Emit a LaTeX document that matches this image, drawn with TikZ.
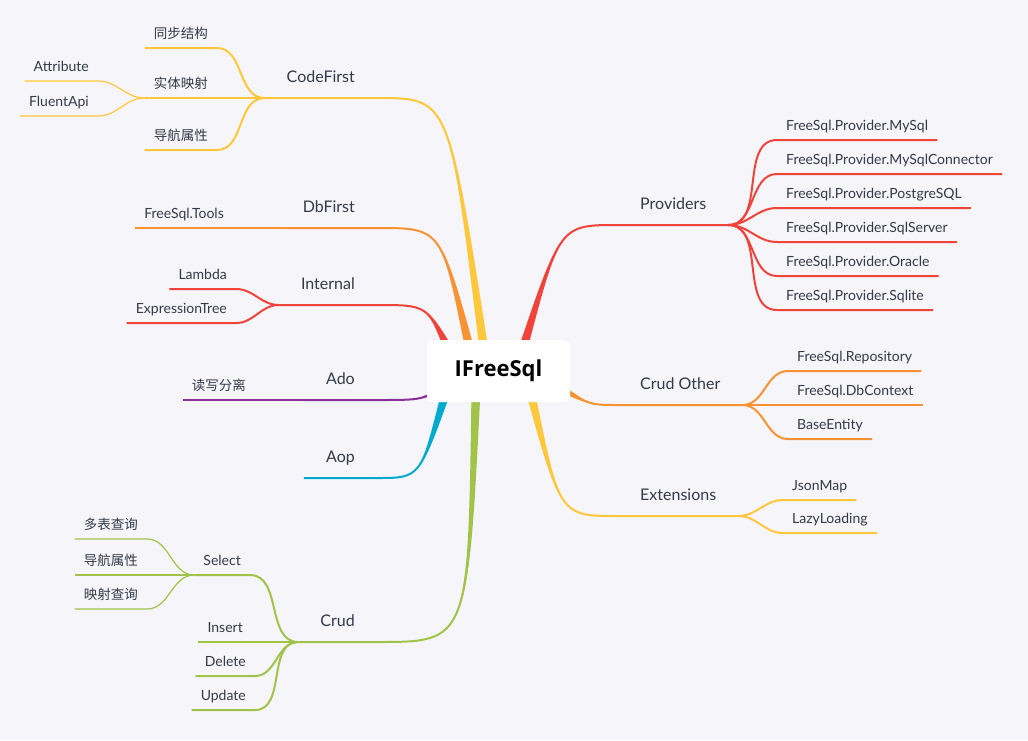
\documentclass[tikz,border=0pt]{standalone}
\usepackage{fontspec}
\setmainfont{Lato}
\newfontfamily\cjk{Noto Sans CJK SC}
\newfontfamily\rootfont{Open Sans}
\usepackage{tikz}
\usetikzlibrary{calc}
\definecolor{bgcol}{RGB}{245,245,250}
\definecolor{cYellow}{RGB}{255,200,60}
\definecolor{cOrange}{RGB}{247,147,50}
\definecolor{cRed}{RGB}{240,68,58}
\definecolor{cPurple}{RGB}{139,46,150}
\definecolor{cCyan}{RGB}{0,171,207}
\definecolor{cGreen}{RGB}{161,195,74}
\definecolor{txt}{RGB}{52,58,72}

\begin{document}
\begin{tikzpicture}[x=1pt,y=-1pt,
  topic/.style={text=txt,inner xsep=22pt,inner ysep=12pt,text depth=3.6pt,font=\fontsize{16}{19}\selectfont},
  sub/.style={text=txt,inner xsep=9pt,inner ysep=6pt,text depth=3pt,font=\fontsize{14}{17}\selectfont},
  zh/.style={font=\cjk\fontsize{13.5}{16}\selectfont},
  root/.style={fill=white,rounded corners=6pt,minimum width=143pt,minimum height=62pt,font=\rootfont\bfseries\fontsize{22}{26}\selectfont},
  stem/.style={line width=2pt},
  line2/.style={line width=2pt},
  line3/.style={line width=1.2pt},
  tol/.style={out=180,in=0},
  tor/.style={out=0,in=180}]
\useasboundingbox (0,0) rectangle (1028,740);
\fill[bgcol] (0,0) rectangle (1028,740);
\coordinate (o) at (498.5,371);

% left side
\node[topic,anchor=south east] (codefirst) at (377,98) {CodeFirst};
\node[sub,zh,anchor=south east] (sync) at (217,48) {同步结构};
\node[sub,zh,anchor=south east] (entity) at (217,98) {实体映射};
\node[sub,zh,anchor=south east] (nav) at (217,150) {导航属性};
\node[sub,anchor=south east] (attr) at (98,81) {Attribute};
\node[sub,anchor=south east] (fluent) at (98,116) {FluentApi};

\node[topic,anchor=south east] (dbfirst) at (377,228) {DbFirst};
\node[sub,anchor=south east] (tools) at (233,228) {FreeSql.Tools};

\node[topic,anchor=south east] (internal) at (377,305) {Internal};
\node[sub,anchor=south east] (lambda) at (236,289) {Lambda};
\node[sub,anchor=south east] (exprtree) at (236,323) {ExpressionTree};

\node[topic,anchor=south east] (ado) at (377,400) {Ado};
\node[sub,zh,anchor=south east] (rwsplit) at (255,400) {读写分离};

\node[topic,anchor=south east] (aop) at (377,478) {Aop};

\node[topic,anchor=south east] (crud) at (377,642) {Crud};
\node[sub,anchor=south east] (select) at (250,575) {Select};
\node[sub,zh,anchor=south east] (multi) at (147,539) {多表查询};
\node[sub,zh,anchor=south east] (nav2) at (147,575) {导航属性};
\node[sub,zh,anchor=south east] (mapq) at (147,609) {映射查询};
\node[sub,anchor=south east] (insert) at (252,642) {Insert};
\node[sub,anchor=south east] (delete) at (255,676) {Delete};
\node[sub,anchor=south east] (update) at (255,710) {Update};

% right side
\node[topic,anchor=south west] (providers) at (618,225) {Providers};
\node[sub,anchor=south west] (pmysql) at (777,140) {FreeSql.Provider.MySql};
\node[sub,anchor=south west] (pconn) at (777,174) {FreeSql.Provider.MySqlConnector};
\node[sub,anchor=south west] (ppg) at (777,208) {FreeSql.Provider.PostgreSQL};
\node[sub,anchor=south west] (pss) at (777,242) {FreeSql.Provider.SqlServer};
\node[sub,anchor=south west] (pora) at (777,276) {FreeSql.Provider.Oracle};
\node[sub,anchor=south west] (plite) at (777,310) {FreeSql.Provider.Sqlite};

\node[topic,anchor=south west] (crudother) at (618,405) {Crud Other};
\node[sub,anchor=south west] (repo) at (788,371) {FreeSql.Repository};
\node[sub,anchor=south west] (dbctx) at (788,405) {FreeSql.DbContext};
\node[sub,anchor=south west] (baseent) at (788,439) {BaseEntity};

\node[topic,anchor=south west] (extensions) at (618,516) {Extensions};
\node[sub,anchor=south west] (jsonmap) at (783,500) {JsonMap};
\node[sub,anchor=south west] (lazy) at (783,533) {LazyLoading};

% branch starts inside the root box
\coordinate (s-cf) at ($(o)+(-14.5,-21)$);
\coordinate (s-db) at ($(o)+(-28.5,-21)$);
\coordinate (s-in) at ($(o)+(-48.5,-19)$);
\coordinate (s-ado) at ($(o)+(-53.5,14)$);
\coordinate (s-aop) at ($(o)+(-52.5,21)$);
\coordinate (s-crud) at ($(o)+(-22.5,19)$);
\coordinate (s-prov) at ($(o)+(23.5,-19)$);
\coordinate (s-other) at ($(o)+(56.5,14)$);
\coordinate (s-ext) at ($(o)+(31.5,19)$);

% main branches
\fill[cYellow] ($(s-cf)!4.5pt!90:(449,98)$) .. controls (449,98) .. (codefirst.south east) .. controls (449,98) .. ($(s-cf)!4.5pt!-90:(449,98)$) -- cycle;
\draw[cYellow,stem] (s-cf) .. controls (449,98) .. (codefirst.south east) -- (codefirst.south west);
\fill[cOrange] ($(s-db)!4.5pt!90:(441,228)$) .. controls (441,228) .. (dbfirst.south east) .. controls (441,228) .. ($(s-db)!4.5pt!-90:(441,228)$) -- cycle;
\draw[cOrange,stem] (s-db) .. controls (441,228) .. (dbfirst.south east) -- (dbfirst.south west);
\fill[cRed] ($(s-in)!4.5pt!90:(427,305)$) .. controls (427,305) .. (internal.south east) .. controls (427,305) .. ($(s-in)!4.5pt!-90:(427,305)$) -- cycle;
\draw[cRed,stem] (s-in) .. controls (427,305) .. (internal.south east) -- (internal.south west);
\fill[cPurple] ($(s-ado)!4.5pt!90:(423,400)$) .. controls (423,400) .. (ado.south east) .. controls (423,400) .. ($(s-ado)!4.5pt!-90:(423,400)$) -- cycle;
\draw[cPurple,stem] (s-ado) .. controls (423,400) .. (ado.south east) -- (ado.south west);
\fill[cCyan] ($(s-aop)!4.5pt!90:(420,478)$) .. controls (420,478) .. (aop.south east) .. controls (420,478) .. ($(s-aop)!4.5pt!-90:(420,478)$) -- cycle;
\draw[cCyan,stem] (s-aop) .. controls (420,478) .. (aop.south east) -- (aop.south west);
\fill[cGreen] ($(s-crud)!4.5pt!90:(468,642)$) .. controls (468,642) .. (crud.south east) .. controls (468,642) .. ($(s-crud)!4.5pt!-90:(468,642)$) -- cycle;
\draw[cGreen,stem] (s-crud) .. controls (468,642) .. (crud.south east) -- (crud.south west);
\fill[cRed] ($(s-prov)!4.5pt!90:(560,225)$) .. controls (560,225) .. (providers.south west) .. controls (560,225) .. ($(s-prov)!4.5pt!-90:(560,225)$) -- cycle;
\draw[cRed,stem] (s-prov) .. controls (560,225) .. (providers.south west) -- (providers.south east);
\fill[cOrange] ($(s-other)!4.5pt!90:(590,405)$) .. controls (590,405) .. (crudother.south west) .. controls (590,405) .. ($(s-other)!4.5pt!-90:(590,405)$) -- cycle;
\draw[cOrange,stem] (s-other) .. controls (590,405) .. (crudother.south west) -- (crudother.south east);
\fill[cYellow] ($(s-ext)!4.5pt!90:(560,516)$) .. controls (560,516) .. (extensions.south west) .. controls (560,516) .. ($(s-ext)!4.5pt!-90:(560,516)$) -- cycle;
\draw[cYellow,stem] (s-ext) .. controls (560,516) .. (extensions.south west) -- (extensions.south east);

% sub branches, left
\draw[cYellow,line2] (codefirst.south west) to[tol] (sync.south east) -- (sync.south west);
\draw[cYellow,line2] (codefirst.south west) to[tol] (entity.south east) -- (entity.south west);
\draw[cYellow,line2] (codefirst.south west) to[tol] (nav.south east) -- (nav.south west);
\draw[cYellow,line3] (entity.south west) to[tol] (attr.south east) -- (attr.south west);
\draw[cYellow,line3] (entity.south west) to[tol] (fluent.south east) -- (fluent.south west);
\draw[cOrange,line2] (dbfirst.south west) to[tol] (tools.south east) -- (tools.south west);
\draw[cRed,line2] (internal.south west) to[tol] (lambda.south east) -- (lambda.south west);
\draw[cRed,line2] (internal.south west) to[tol] (exprtree.south east) -- (exprtree.south west);
\draw[cPurple,line2] (ado.south west) to[tol] (rwsplit.south east) -- (rwsplit.south west);
\draw[cGreen,line2] (crud.south west) to[tol] (select.south east) -- (select.south west);
\draw[cGreen,line2] (crud.south west) to[tol] (insert.south east) -- (insert.south west);
\draw[cGreen,line2] (crud.south west) to[tol] (delete.south east) -- (delete.south west);
\draw[cGreen,line2] (crud.south west) to[tol] (update.south east) -- (update.south west);
\draw[cGreen,line3] (select.south west) to[tol] (multi.south east) -- (multi.south west);
\draw[cGreen,line3] (select.south west) to[tol] (nav2.south east) -- (nav2.south west);
\draw[cGreen,line3] (select.south west) to[tol] (mapq.south east) -- (mapq.south west);

% sub branches, right
\draw[cRed,line2] (providers.south east) to[tor] (pmysql.south west) -- (pmysql.south east);
\draw[cRed,line2] (providers.south east) to[tor] (pconn.south west) -- (pconn.south east);
\draw[cRed,line2] (providers.south east) to[tor] (ppg.south west) -- (ppg.south east);
\draw[cRed,line2] (providers.south east) to[tor] (pss.south west) -- (pss.south east);
\draw[cRed,line2] (providers.south east) to[tor] (pora.south west) -- (pora.south east);
\draw[cRed,line2] (providers.south east) to[tor] (plite.south west) -- (plite.south east);
\draw[cOrange,line2] (crudother.south east) to[tor] (repo.south west) -- (repo.south east);
\draw[cOrange,line2] (crudother.south east) to[tor] (dbctx.south west) -- (dbctx.south east);
\draw[cOrange,line2] (crudother.south east) to[tor] (baseent.south west) -- (baseent.south east);
\draw[cYellow,line2] (extensions.south east) to[tor] (jsonmap.south west) -- (jsonmap.south east);
\draw[cYellow,line2] (extensions.south east) to[tor] (lazy.south west) -- (lazy.south east);

\node[root] (root) at (o) {IFreeSql};
\end{tikzpicture}
\end{document}
